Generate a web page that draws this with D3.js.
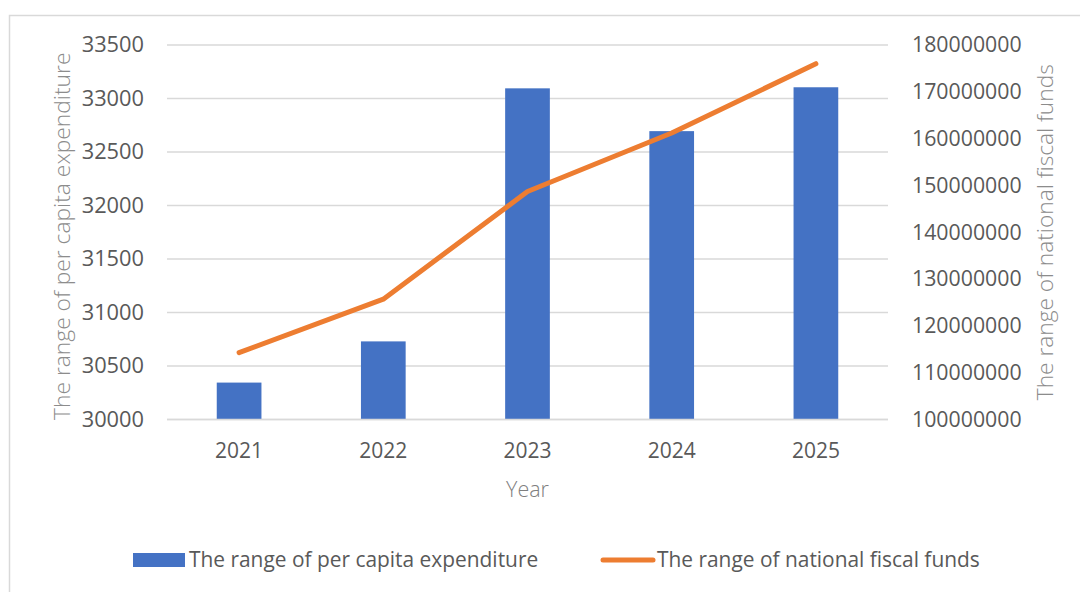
<!DOCTYPE html>
<html>
<head>
<meta charset="utf-8">
<script src="https://cdn.jsdelivr.net/npm/d3@7"></script>
<style>
  html, body { margin: 0; padding: 0; background: #fff; }
  svg { display: block; font-family: "Open Sans", "Noto Sans", sans-serif; }
</style>
</head>
<body>
<svg id="chart" width="1080" height="592"></svg>
<script>
// Years on the category axis
const years = ["2021", "2022", "2023", "2024", "2025"];
// Per capita expenditure range (left axis, bars)
const perCapita = [30345, 30730, 33095, 32695, 33105];
// National fiscal funds range (right axis, line)
const fiscalFunds = [114300000, 125700000, 148700000, 161200000, 176000000];
// Tick values for both value axes
const leftTicks = [30000, 30500, 31000, 31500, 32000, 32500, 33000, 33500];
const rightTicks = [100000000, 110000000, 120000000, 130000000, 140000000, 150000000, 160000000, 170000000, 180000000];
// Titles and legend entries
const xTitle = "Year";
const leftTitle = "The range of per capita expenditure";
const rightTitle = "The range of national fiscal funds";
const seriesNames = ["The range of per capita expenditure", "The range of national fiscal funds"];

const BAR = "#4472C4", LINE = "#ED7D31";
const svg = d3.select("#chart");

// outer chart frame
svg.append("rect")
  .attr("x", 9.5).attr("y", 15.5)
  .attr("width", 1100).attr("height", 600)
  .attr("fill", "none").attr("stroke", "#d9d9d9").attr("stroke-width", 1.5);

const plot = { left: 167, right: 888, top: 45, bottom: 419.5 };

const x = d3.scaleBand().domain(years)
  .range([plot.left, plot.right])
  .paddingInner(0.69).paddingOuter(0.345);
const yL = d3.scaleLinear().domain([30000, 33500]).range([plot.bottom, plot.top]);
const yR = d3.scaleLinear().domain([100000000, 180000000]).range([plot.bottom, plot.top]);

// horizontal gridlines
svg.append("g").selectAll("line").data(leftTicks).join("line")
  .attr("x1", plot.left).attr("x2", plot.right)
  .attr("y1", d => yL(d)).attr("y2", d => yL(d))
  .attr("stroke", "#d9d9d9").attr("stroke-width", 1.3);

// left axis
const gL = svg.append("g").attr("transform", `translate(${plot.left},0)`)
  .call(d3.axisLeft(yL).tickValues(leftTicks).tickFormat(d3.format("d")).tickSize(0).tickPadding(23));
gL.select(".domain").remove();
gL.selectAll("text").attr("font-size", 21.8).attr("fill", "#595959")
  .attr("font-family", "'Open Sans', sans-serif");

// right axis
const gR = svg.append("g").attr("transform", `translate(${plot.right},0)`)
  .call(d3.axisRight(yR).tickValues(rightTicks).tickFormat(d3.format("d")).tickSize(0).tickPadding(24));
gR.select(".domain").remove();
gR.selectAll("text").attr("font-size", 21.3).attr("fill", "#595959")
  .attr("font-family", "'Open Sans', sans-serif");

// bars
svg.append("g").selectAll("rect").data(years).join("rect")
  .attr("x", d => x(d)).attr("width", x.bandwidth())
  .attr("y", (d, i) => yL(perCapita[i]))
  .attr("height", (d, i) => yL(30000) - yL(perCapita[i]))
  .attr("fill", BAR);

// baseline
svg.append("line")
  .attr("x1", plot.left).attr("x2", plot.right)
  .attr("y1", plot.bottom).attr("y2", plot.bottom)
  .attr("stroke", "#d9d9d9").attr("stroke-width", 1.3);

// x axis
const gX = svg.append("g").attr("transform", `translate(0,${plot.bottom})`)
  .call(d3.axisBottom(x).tickSize(0).tickPadding(24));
gX.select(".domain").remove();
gX.selectAll("text").attr("font-size", 21).attr("fill", "#595959")
  .attr("font-family", "'Open Sans', sans-serif");

// fiscal funds line
const line = d3.line()
  .x((d, i) => x(years[i]) + x.bandwidth() / 2)
  .y(d => yR(d));
svg.append("path").datum(fiscalFunds)
  .attr("d", line)
  .attr("fill", "none").attr("stroke", LINE).attr("stroke-width", 5)
  .attr("stroke-linecap", "round").attr("stroke-linejoin", "round");

// axis titles
svg.append("text").text(xTitle)
  .attr("x", (plot.left + plot.right) / 2).attr("y", 497)
  .attr("text-anchor", "middle").attr("font-size", 21.5).attr("font-weight", 300)
  .attr("fill", "#7f7f7f");

svg.append("text").text(leftTitle)
  .attr("transform", `translate(70,${(plot.top + plot.bottom) / 2 + 4}) rotate(-90)`)
  .attr("text-anchor", "middle").attr("font-size", 22.8).attr("font-weight", 300)
  .attr("fill", "#8c8c8c");

svg.append("text").text(rightTitle)
  .attr("transform", `translate(1053,${(plot.top + plot.bottom) / 2}) rotate(-90)`)
  .attr("text-anchor", "middle").attr("font-size", 22.7).attr("font-weight", 300)
  .attr("fill", "#8c8c8c");

// legend
const legend = svg.append("g").attr("transform", "translate(0,560)");
const legendX = [133, 600];
seriesNames.forEach((name, i) => {
  const g = legend.append("g").attr("transform", `translate(${legendX[i]},0)`);
  if (i === 0) {
    g.append("rect").attr("x", 0).attr("y", -7).attr("width", 52).attr("height", 14).attr("fill", BAR);
  } else {
    g.append("line").attr("x1", 3).attr("x2", 53).attr("y1", 0).attr("y2", 0)
      .attr("stroke", LINE).attr("stroke-width", 5).attr("stroke-linecap", "round");
  }
  g.append("text").text(name)
    .attr("x", i === 0 ? 56 : 57).attr("y", 0).attr("dy", "0.35em")
    .attr("font-size", 20.9).attr("fill", "#595959");
});
</script>
</body>
</html>
